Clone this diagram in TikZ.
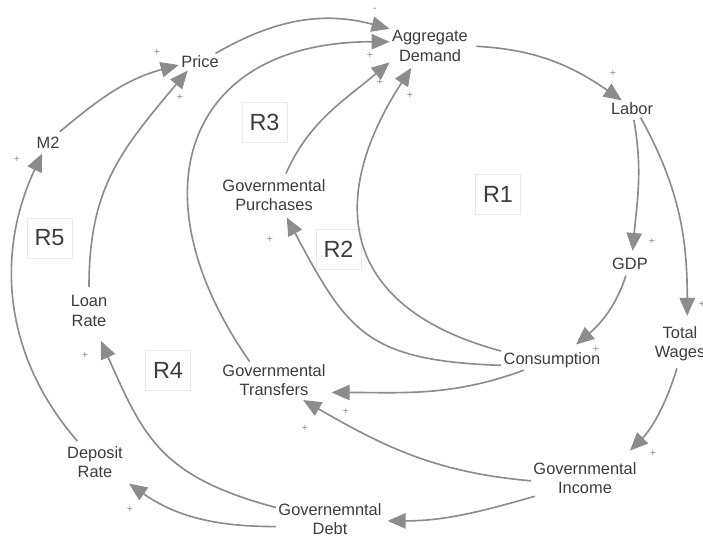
\documentclass[tikz,border=0pt]{standalone}
\usepackage{fontspec}
\setmainfont{Liberation Sans}
\usetikzlibrary{arrows.meta}
\definecolor{linkgray}{HTML}{8C8C8C}
\definecolor{textgray}{HTML}{3C3C3C}
\tikzset{
	var/.style={align=center,inner sep=2pt,text=textgray,font=\fontsize{14}{16.5}\selectfont},
	loopbox/.style={draw=black!8,text=textgray,font=\fontsize{20}{20}\selectfont,minimum width=1.35cm,minimum height=1.2cm},
	link/.style={draw=linkgray,line width=1.4pt,-{Triangle[length=5.4mm,width=4.6mm]}},
	sgn/.style={text=linkgray,inner sep=0pt,font=\fontsize{9}{9}\selectfont}
}
\begin{document}
\begin{tikzpicture}[x=0.03cm,y=0.03cm]
		\useasboundingbox (0,0) rectangle (703,-538);
		\clip (0,0) rectangle (703,-538);
		% variables
		\node[var] (price) at (200,-62) {Price};
		\node[var] (ad) at (430,-46) {Aggregate\\Demand};
		\node[var] (labor) at (632,-109) {Labor};
		\node[var] (gdp) at (630,-264) {GDP};
		\node[var] (wages) at (680,-344) {Total\\Wages};
		\node[var] (cons) at (552,-360) {Consumption};
		\node[var] (ginc) at (585,-478) {Governmental\\Income};
		\node[var] (debt) at (330,-519) {Governemntal\\Debt};
		\node[var] (deposit) at (95,-462) {Deposit\\Rate};
		\node[var] (loan) at (89,-311) {Loan\\Rate};
		\node[var] (transfers) at (274,-380) {Governmental\\Transfers};
		\node[var] (purchases) at (274,-195) {Governmental\\Purchases};
		\node[var] (m2) at (48,-143) {M2};
		% loops
		\node[loopbox] (r1) at (498,-194.5) {R1};
		\node[loopbox] (r2) at (338.5,-249) {R2};
		\node[loopbox] (r3) at (264.5,-122) {R3};
		\node[loopbox] (r4) at (168,-370.5) {R4};
		\node[loopbox] (r5) at (49.5,-238) {R5};
		% links
		\draw[link] (price.29) to[out=30,in=165] (ad.157);
		\draw[link] (transfers.143) to[out=125,in=180,looseness=1.5] (ad.174);
		\draw[link,shorten <=3pt] (purchases.60) to[out=66,in=220] (ad.202);
		\draw[link,shorten >=4pt] (cons.170) to[out=165,in=237,looseness=1.4] (ad.228);
		\draw[link,shorten >=4pt] (cons.186) to[out=178,in=298,looseness=1.3] (purchases.300);
		\draw[link,shorten >=3pt] (cons.200) to[out=200,in=0] (transfers.347);
		\draw[link,shorten >=3pt] (ginc.183) to[out=175,in=330] (transfers.325);
		\draw[link,shorten >=3pt] (ginc.200) to[out=196,in=0] (debt.358);
		\draw[link,shorten >=5pt] (debt.188) to[out=180,in=325] (deposit.328);
		\draw[link,shorten >=11pt] (debt.168) to[out=165,in=294,looseness=1.2] (loan.290);
		\draw[link,shorten <=3pt,shorten >=2pt] (deposit.130) to[out=131,in=245] (m2.240);
		\draw[link,shorten <=5pt] (loan.north) to[out=90,in=230,looseness=1.1] (price.215);
		\draw[link,shorten <=4pt] (m2.45) to[out=40,in=195] (price.188);
		\draw[link,shorten <=5pt] (ad.0) to[out=-3,in=145] (labor.140);
		\draw[link,shorten <=2pt,shorten >=4pt] (labor.280) to[out=-80,in=85] (gdp.75);
		\draw[link,shorten >=7pt] (labor.315) to[out=-61,in=90] (wages.70);
		\draw[link,shorten <=3pt,shorten >=7pt] (gdp.250) to[out=-108,in=40] (cons.30);
		\draw[link,shorten <=4pt,shorten >=11pt] (wages.265) to[out=-107,in=45] (ginc.27);
		% polarities
		\node[sgn] (neg) at (375,-10) {-};
		\foreach \x/\y [count=\i] in {370/-55,380/-82,410/-95,157/-52,180/-97,17/-159,270/-239,613/-73,652/-241,702/-304,596/-349,653/-453,346/-411,305/-428,130/-509,85/-355}
			\node[sgn] (pos\i) at (\x,\y) {+};
\end{tikzpicture}
\end{document}
